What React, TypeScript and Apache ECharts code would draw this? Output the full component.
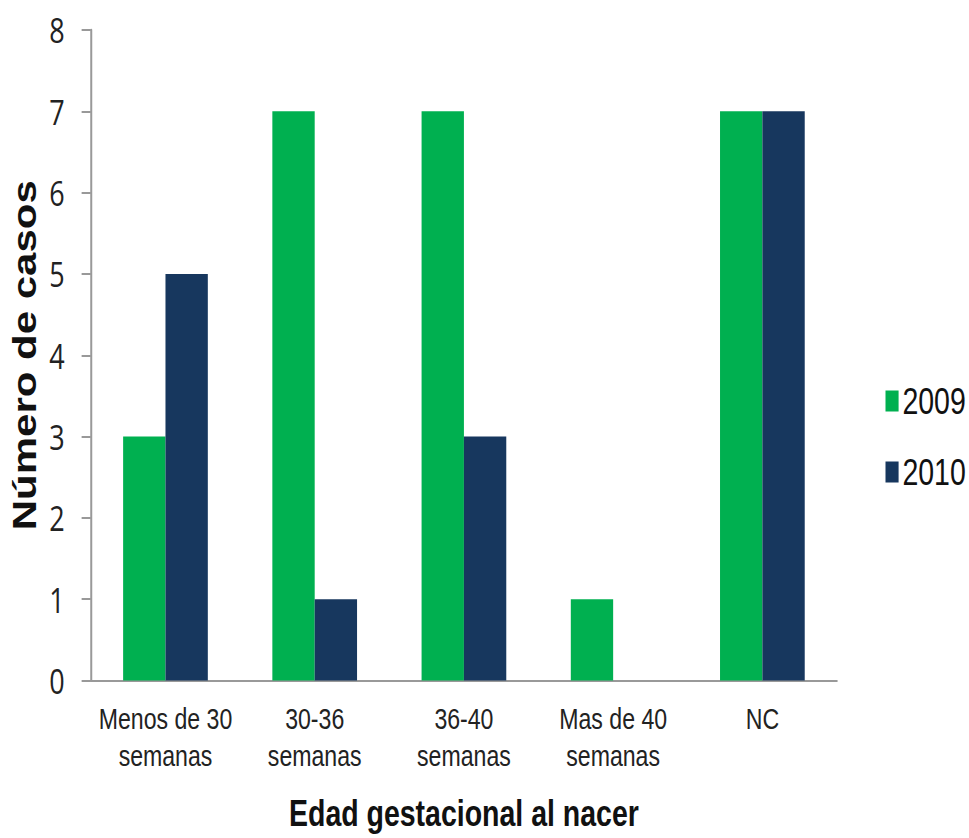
import React, { useEffect, useRef } from "react";
import * as echarts from "echarts";

// Gestational age at birth, cases per year
const categories = [
  "Menos de 30\nsemanas",
  "30-36\nsemanas",
  "36-40\nsemanas",
  "Mas de 40\nsemanas",
  "NC",
];
const cases2009 = [3, 7, 7, 1, 7];
const cases2010 = [5, 1, 3, 0, 7];
const seriesNames = ["2009", "2010"];
const yTicks = { min: 0, max: 8, interval: 1 };

// The chart is laid out on a wider canvas and squeezed horizontally,
// giving the condensed look of the lettering.
const SQUEEZE = 0.77;
const OUT_W = 969;
const OUT_H = 838;
const W = Math.round(OUT_W / SQUEEZE);

export default function App() {
  const ref = useRef<HTMLDivElement>(null);

  useEffect(() => {
    document.body.style.margin = "0";
    document.body.style.overflow = "hidden";
    if (!ref.current) return;
    const chart = echarts.init(ref.current, null, { renderer: "svg" });
    chart.setOption({
      animation: false,
      backgroundColor: "#ffffff",
      grid: { left: 118, right: W - 1087, top: 30, bottom: OUT_H - 680.5 },
      legend: {
        orient: "vertical",
        left: 1145,
        top: 374,
        itemWidth: 17,
        itemHeight: 21,
        itemGap: 27,
        icon: "rect",
        data: seriesNames,
        textStyle: {
          fontFamily: "Liberation Sans, Arial, sans-serif",
          fontSize: 37,
          lineHeight: 44,
          color: "#111",
        },
      },
      xAxis: {
        type: "category",
        data: categories,
        name: "Edad gestacional al nacer",
        nameLocation: "middle",
        nameGap: 114,
        nameTextStyle: {
          fontFamily: "Liberation Sans, Arial, sans-serif",
          fontWeight: "bold",
          fontSize: 37,
          color: "#111",
        },
        axisLine: { lineStyle: { color: "#999", width: 2 } },
        axisTick: { show: false },
        axisLabel: {
          interval: 0,
          margin: 20,
          fontFamily: "Liberation Sans, Arial, sans-serif",
          fontSize: 30,
          lineHeight: 37,
          color: "#222",
        },
      },
      yAxis: {
        type: "value",
        min: yTicks.min,
        max: yTicks.max,
        interval: yTicks.interval,
        name: "Número de casos",
        nameLocation: "middle",
        nameGap: 58,
        nameTextStyle: {
          fontFamily: "Liberation Sans, Arial, sans-serif",
          fontWeight: "bold",
          fontSize: 42,
          color: "#111",
        },
        axisLine: { show: true, lineStyle: { color: "#999", width: 2.6 } },
        axisTick: { show: true, length: 12, lineStyle: { color: "#999", width: 2 } },
        splitLine: { show: false },
        axisLabel: {
          margin: 34,
          fontFamily: "Open Sans, sans-serif",
          fontSize: 35,
          color: "#222",
        },
      },
      series: [
        {
          name: seriesNames[0],
          type: "bar",
          data: cases2009,
          barWidth: 55,
          barGap: "0%",
          itemStyle: { color: "#00B050" },
        },
        {
          name: seriesNames[1],
          type: "bar",
          data: cases2010,
          barWidth: 55,
          barGap: "0%",
          itemStyle: { color: "#17375E" },
        },
      ],
    });
    return () => chart.dispose();
  }, []);

  return (
    <div
      ref={ref}
      style={{
        width: W,
        height: OUT_H,
        transform: `scaleX(${SQUEEZE})`,
        transformOrigin: "0 0",
      }}
    />
  );
}
